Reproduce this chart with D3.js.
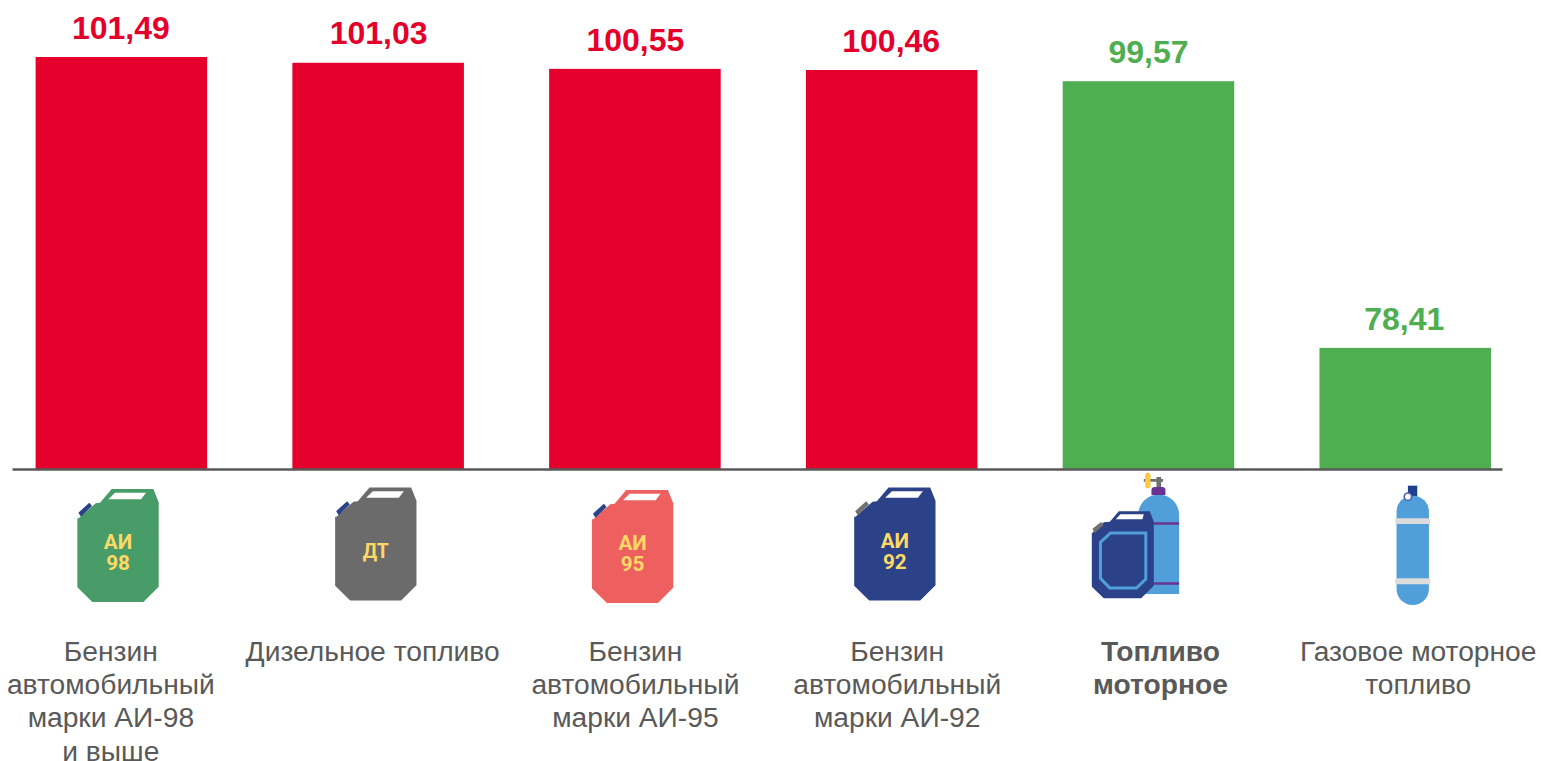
<!DOCTYPE html>
<html lang="ru"><head><meta charset="utf-8">
<script src="https://cdnjs.cloudflare.com/ajax/libs/d3/7.8.5/d3.min.js"></script>
<style>html,body{margin:0;padding:0;background:#fff;overflow:hidden}svg{display:block}text{font-family:"Liberation Sans",Arial,sans-serif}</style>
</head><body><svg id="c" width="1541" height="761"></svg>
<script>
const categories=["Бензин автомобильный АИ-98","Дизельное топливо","Бензин автомобильный АИ-95","Бензин автомобильный АИ-92","Топливо моторное","Газовое моторное топливо"];
const values=[101.49,101.03,100.55,100.46,99.57,78.41];
const barGroups=["rise","rise","rise","rise","fall","fall"];
const categoryLabels=[["Бензин","автомобильный","марки АИ-98","и выше"],["Дизельное топливо"],["Бензин","автомобильный","марки АИ-95"],["Бензин","автомобильный","марки АИ-92"],["Топливо","моторное"],["Газовое моторное","топливо"]];
const boldLabels=[false,false,false,false,true,false];
const iconKinds=["can","can","can","can","combo","bottle"];
const canColors=["#489C68","#6B6B6B","#EE6060","#2B4289"];
const spoutColors=["#2B4289","#2B4289","#2B4289","#707070"];
const canTexts=[["АИ","98"],["ДТ"],["АИ","95"],["АИ","92"]];

const svg=d3.select("#c");
const colors={rise:"#E4002B",fall:"#4FAE50"};
const x=d3.scaleBand().domain(categories).range([35.6,1491]).paddingInner(0.332).paddingOuter(0);
const y=d3.scaleLinear().domain([68.8,101.49]).range([469,57]);
const base=y(68.8);
const valueNudge=[-0.5,0.5,0.5,-0.5,0,-1];
const valueLift=[18,18.5,18,18,18,17.5];
const labelNudge=[-10.5,-5.5,0.5,5.5,12,13];
const canNudge=[[-44,20],[-43,18.5],[-43,21],[-37.5,18.5]];
const cx=i=>x(categories[i])+x.bandwidth()/2;

svg.selectAll("rect.bar").data(values).join("rect").attr("class","bar")
 .attr("x",(d,i)=>x(categories[i])).attr("width",x.bandwidth())
 .attr("y",d=>y(d)).attr("height",d=>base-y(d)).attr("fill",(d,i)=>colors[barGroups[i]]);

const axisX=d3.scaleLinear().domain([0,1]).range([12,1502]);
svg.append("g").attr("transform",`translate(0,${base})`)
 .call(d3.axisBottom(axisX).tickValues([]).tickSize(0))
 .select(".domain").attr("stroke","#595959").attr("stroke-width",2.5);

svg.selectAll("text.val").data(values).join("text").attr("class","val")
 .attr("x",(d,i)=>cx(i)+valueNudge[i]).attr("y",(d,i)=>y(d)-valueLift[i]).attr("text-anchor","middle")
 .attr("font-size",32).attr("font-weight",700).attr("fill",(d,i)=>colors[barGroups[i]])
 .text(d=>d.toFixed(2).replace(".",","));

svg.selectAll("text.cat").data(categoryLabels).join("text").attr("class","cat")
 .attr("text-anchor","middle").attr("font-size",28.2).attr("fill","#595959")
 .attr("font-weight",(d,i)=>boldLabels[i]?700:400)
 .each(function(lines,i){
   d3.select(this).selectAll("tspan").data(lines).join("tspan")
     .attr("x",cx(i)+labelNudge[i]).attr("y",(l,k)=>660.5+k*33.4).text(l=>l);
 });

function can(g,i){
 g.append("path").attr("d","M0,88 L4,88 L55,43 L68,41 L103,0 L228,0 L244,40 L244,293 L198,339 L45,339 L0,295Z").attr("fill",canColors[i]);
 g.append("path").attr("d","M3,71 L36,41 L44,51 L11,83Z").attr("fill",spoutColors[i]);
 g.append("path").attr("d","M93,31 L113,11 L206,11 L191,31Z").attr("fill","#fff");
 const t=canTexts[i];
 g.selectAll("text").data(t).join("text").attr("x",122).attr("text-anchor","middle")
  .attr("y",(d,k)=>t.length===1?211:181+k*62).attr("font-size",t.length===1?58:62)
  .style("font-family","Roboto").attr("font-weight",700).attr("fill","#FFD966").text(d=>d);
}
function combo(g){
 g.append("path").attr("d","M203,387 L203,150 A61,61 0 0 1 326,150 L326,387Z").attr("fill","#509FDA");
 g.append("path").attr("d","M243,90 L243,76 Q243,66 253,66 L275,66 Q285,66 285,76 L285,90Z").attr("fill","#6A3391");
 g.append("path").attr("d","M220,42 H278 V50 H220Z M258,36 H272 V66 H258Z").attr("fill","#707070");
 g.append("rect").attr("x",224).attr("y",23).attr("width",16).attr("height",47).attr("rx",8).attr("fill","#FFC93C");
 g.append("path").attr("d","M248,172 H326 V179 H248Z M248,352 H326 V359 H248Z").attr("fill","#6A3391");
 g.append("path").attr("d","M64,205 L100,172 L118,170 L145,139 L238,139 L250,170 L250,362 L212,400 L100,400 L64,365Z").attr("fill","#2B4289");
 g.append("path").attr("d","M66,191 L92,171 L99,181 L72,204Z").attr("fill","#707070");
 g.append("path").attr("d","M136,163 L150,148 L220,148 L216,163Z").attr("fill","#fff");
 g.append("path").attr("d","M90,232 L120,204 L226,204 L226,342 L198,369 L118,369 L90,340Z").attr("fill","none").attr("stroke","#509FDA").attr("stroke-width",9);
}
function bottle(g){
 g.append("rect").attr("x",1013).attr("y",62).attr("width",28).attr("height",40).attr("fill","#1F3F8C");
 g.append("rect").attr("x",979).attr("y",92).attr("width",97).attr("height",328).attr("rx",48).attr("fill","#509FDA");
 g.append("circle").attr("cx",1013).attr("cy",95).attr("r",11).attr("fill","#fff").attr("stroke","#4A5FB0").attr("stroke-width",5);
 g.append("path").attr("d","M975,160 H1080 V177 H975Z M975,340 H1080 V358 H975Z").attr("fill","#DCDCDC");
}
const icons=svg.append("g");
iconKinds.forEach((k,i)=>{
 const c=cx(i);
 if(k==="can"){const n=canNudge[i];can(icons.append("g").attr("transform",`translate(${c+n[0]},${base+n[1]}) scale(${1/3})`),i);}
 if(k==="combo")combo(icons.append("g").attr("transform",`translate(${c-78},${base-4}) scale(${1/3})`));
 if(k==="bottle")bottle(icons.append("g").attr("transform",`translate(${c-335},${base-4}) scale(${1/3})`));
});
</script></body></html>
